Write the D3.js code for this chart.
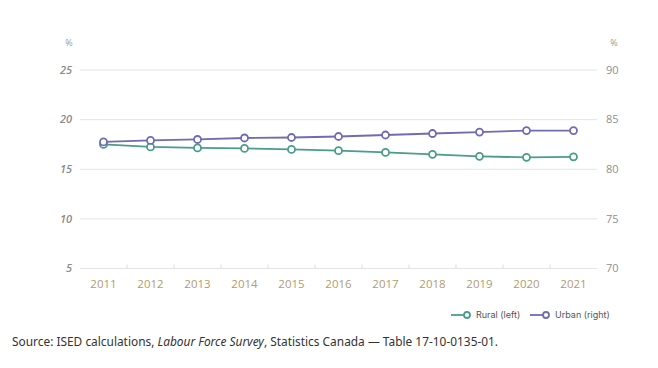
<!DOCTYPE html>
<html><head><meta charset="utf-8">
<script src="https://cdn.jsdelivr.net/npm/d3@7"></script>
<style>body{margin:0;background:#fff;}svg{display:block;}</style>
</head><body>
<svg id="c" width="658" height="368"></svg>
<script>
const years = ["2011","2012","2013","2014","2015","2016","2017","2018","2019","2020","2021"];
const rural = [17.5,17.25,17.15,17.1,17.0,16.87,16.7,16.5,16.3,16.2,16.25];
const urban = [82.75,82.9,83.0,83.15,83.2,83.3,83.45,83.6,83.75,83.9,83.9];
const leftTicks = [5,10,15,20,25];
const rightTicks = [70,75,80,85,90];
const seriesNames = ["Rural (left)","Urban (right)"];
const colors = ["#4a9d89","#706bb3"];

const svg = d3.select("#c");
const x0 = 80, x1 = 597, yTop = 70, yBot = 268.5;
const x = d3.scaleBand().domain(years).range([x0, x1]);
const yL = d3.scaleLinear().domain([5,25]).range([yBot, yTop]);
const yR = d3.scaleLinear().domain([70,90]).range([yBot, yTop]);

svg.append("g").selectAll("line").data(leftTicks).join("line")
  .attr("x1", x0).attr("x2", x1).attr("y1", d=>yL(d)).attr("y2", d=>yL(d))
  .attr("stroke", "#e4e4e4").attr("stroke-width", 1);

svg.append("g").selectAll("line").data(years.slice(1)).join("line")
  .attr("x1", d=>x(d)).attr("x2", d=>x(d)).attr("y1", yBot).attr("y2", yBot-4)
  .attr("stroke", "#dcdcdc").attr("stroke-width", 1);

svg.append("g").selectAll("text").data(leftTicks).join("text")
  .attr("x", 72).attr("y", d=>yL(d)).attr("dy","0.35em").attr("text-anchor","end")
  .attr("font-family","Open Sans, sans-serif").attr("font-size",11).attr("font-style","italic").attr("font-weight",600)
  .attr("fill","#8a8a8a").text(d=>d);
svg.append("text").attr("x",69).attr("y",43).attr("dy","0.35em").attr("text-anchor","middle")
  .attr("font-family","Open Sans, sans-serif").attr("font-size",9).attr("fill","#999").text("%");

svg.append("g").selectAll("text").data(rightTicks).join("text")
  .attr("x", 606).attr("y", d=>yR(d)).attr("dy","0.35em").attr("text-anchor","start")
  .attr("font-family","Open Sans, sans-serif").attr("font-size",11)
  .attr("fill","#8f8f8f").text(d=>d);
svg.append("text").attr("x",614).attr("y",43).attr("dy","0.35em").attr("text-anchor","middle")
  .attr("font-family","Open Sans, sans-serif").attr("font-size",9).attr("fill","#999").text("%");

svg.append("g").selectAll("text").data(years).join("text")
  .attr("x", d=>x(d)+x.bandwidth()/2).attr("y", 284).attr("dy","0.35em").attr("text-anchor","middle")
  .attr("font-family","Open Sans, sans-serif").attr("font-size",11.5).attr("font-weight",500)
  .attr("fill","#b09c70").text(d=>d);

function drawSeries(vals, scale, color){
  const pts = vals.map((v,i)=>[x(years[i])+x.bandwidth()/2, scale(v)]);
  svg.append("path").attr("d", d3.line()(pts)).attr("fill","none")
    .attr("stroke", color).attr("stroke-width", 1.8);
  svg.append("g").selectAll("circle").data(pts).join("circle")
    .attr("cx", d=>d[0]).attr("cy", d=>d[1]).attr("r", 3.5)
    .attr("fill","#fff").attr("stroke", color).attr("stroke-width", 1.8);
}
drawSeries(rural, yL, colors[0]);
drawSeries(urban, yR, colors[1]);

const legX = [451, 530];
seriesNames.forEach((n,i)=>{
  const g = svg.append("g").attr("transform",`translate(${legX[i]},315)`);
  g.append("line").attr("x1",0).attr("x2",15).attr("y1",0).attr("y2",0).attr("stroke",colors[i]).attr("stroke-width",1.8);
  g.append("circle").attr("cx",16).attr("cy",0).attr("r",3).attr("fill","#fff").attr("stroke",colors[i]).attr("stroke-width",1.8);
  g.append("text").attr("x",25).attr("y",0).attr("dy","0.35em")
    .attr("font-family","Inter, sans-serif").attr("font-size",9).attr("fill","#555").text(n);
});

const src = svg.append("text").attr("x",12).attr("y",342).attr("dy","0.35em")
  .attr("font-family","Noto Sans, sans-serif").attr("font-size",11.9).attr("fill","#333");
src.append("tspan").text("Source: ISED calculations, ");
src.append("tspan").attr("font-style","italic").text("Labour Force Survey");
src.append("tspan").text(", Statistics Canada — Table 17-10-0135-01.");
</script>
</body></html>
